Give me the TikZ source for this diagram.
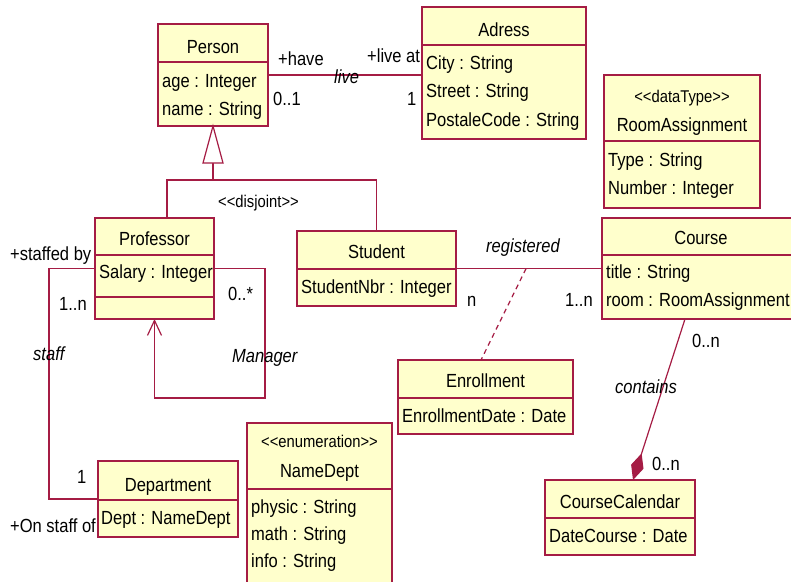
\documentclass[tikz,border=0pt]{standalone}
\usepackage{fontspec}
\setmainfont[FakeStretch=0.87]{Liberation Sans}
\usetikzlibrary{arrows.meta,calc}
\definecolor{umlline}{RGB}{165,28,68}
\definecolor{umlfill}{RGB}{255,255,204}
% guillemet-free stereotype brackets
\newcommand\stereo[1]{<\kern0pt<#1>\kern0pt>}
\begin{document}
\begin{tikzpicture}[x=1pt,y=-1pt,
  cls/.style={draw=umlline,fill=umlfill,line width=1.2pt,inner sep=0pt,outer sep=0pt,anchor=north west},
  cline/.style={draw=umlline,line width=1.2pt},
  txt/.style={inner sep=0pt,anchor=base west,font=\fontsize{19}{21}\selectfont},
  ttl/.style={inner sep=0pt,anchor=base,font=\fontsize{19}{21}\selectfont},
  ster/.style={inner sep=0pt,anchor=base,font=\fontsize{17}{19}\selectfont},
  lbl/.style={inner sep=0pt,anchor=base west,font=\fontsize{19}{21}\selectfont},
  ilbl/.style={inner sep=0pt,anchor=base west,font=\fontsize{19}{21}\selectfont\itshape},
  slbl/.style={inner sep=0pt,anchor=base west,font=\fontsize{17}{19}\selectfont}]
\useasboundingbox (0,0) rectangle (791,581);
\clip (0,0) rectangle (791,581);
\fill[white] (0,0) rectangle (791,581);

% compartment separator inside a class box
\newcommand\compsep[2]{\draw[cline] ([yshift=-#2pt]#1.north west) -- ([yshift=-#2pt]#1.north east);}

% ---------- class boxes ----------
\node[cls,minimum width=110pt,minimum height=102pt] (person) at (158,24) {};
\compsep{person}{38}
\node[cls,minimum width=164pt,minimum height=132pt] (adress) at (422,7) {};
\compsep{adress}{38}
\node[cls,minimum width=156pt,minimum height=133pt] (roomasg) at (604,75) {};
\compsep{roomasg}{66}
\node[cls,minimum width=198pt,minimum height=101pt] (course) at (602,218) {};
\compsep{course}{37}
\node[cls,minimum width=159pt,minimum height=75pt] (student) at (297,231) {};
\compsep{student}{38}
\node[cls,minimum width=119pt,minimum height=101pt] (professor) at (95,218) {};
\compsep{professor}{37}
\compsep{professor}{79}
\node[cls,minimum width=175pt,minimum height=74pt] (enrollment) at (398,360) {};
\compsep{enrollment}{38}
\node[cls,minimum width=140pt,minimum height=76pt] (department) at (98,461) {};
\compsep{department}{39}
\node[cls,minimum width=145pt,minimum height=175pt] (namedept) at (247,423) {};
\compsep{namedept}{66}
\node[cls,minimum width=150pt,minimum height=75pt] (coursecal) at (545,480) {};
\compsep{coursecal}{38}

% ---------- class contents ----------
\node[ttl] (person-n) at (213,53) {Person};
\node[txt] (person-a1) at (162,87) {age : Integer};
\node[txt] (person-a2) at (162,115) {name : String};

\node[ttl] (adress-n) at (504,36) {Adress};
\node[txt] (adress-a1) at (426,69) {City : String};
\node[txt] (adress-a2) at (426,97) {Street : String};
\node[txt] (adress-a3) at (426,126) {PostaleCode : String};

\node[ster] (roomasg-s) at (682,102) {\stereo{dataType}};
\node[ttl] (roomasg-n) at (682,131) {RoomAssignment};
\node[txt] (roomasg-a1) at (608,166) {Type : String};
\node[txt] (roomasg-a2) at (608,194) {Number : Integer};

\node[ttl] (course-n) at (701,244) {Course};
\node[txt] (course-a1) at (606,278) {title : String};
\node[txt] (course-a2) at (606,306) {room : RoomAssignment};

\node[ttl] (student-n) at (376.5,258) {Student};
\node[txt] (student-a1) at (301,293) {StudentNbr : Integer};

\node[ttl] (professor-n) at (154.5,245) {Professor};
\node[txt] (professor-a1) at (99,278) {Salary : Integer};

\node[ttl] (enrollment-n) at (485.5,387) {Enrollment};
\node[txt] (enrollment-a1) at (402,422) {EnrollmentDate : Date};

\node[ttl] (department-n) at (168,491) {Department};
\node[txt] (department-a1) at (101,524) {Dept : NameDept};

\node[ster] (namedept-s) at (319.5,447) {\stereo{enumeration}};
\node[ttl] (namedept-n) at (319.5,477) {NameDept};
\node[txt] (namedept-a1) at (251,513) {physic : String};
\node[txt] (namedept-a2) at (251,540) {math : String};
\node[txt] (namedept-a3) at (251,567) {info : String};

\node[ttl] (coursecal-n) at (620,508) {CourseCalendar};
\node[txt] (coursecal-a1) at (549,542) {DateCourse : Date};

% ---------- association: live ----------
\draw[cline] (person.east) -- (person.east -| adress.west);
\node[lbl] (l-have) at (278,65) {+have};
\node[lbl] (l-liveat) at (367,62) {+live at};
\node[ilbl] (l-live) at (334,83) {live};
\node[lbl] (l-01) at (273,105) {0..1};
\node[lbl] (l-1a) at (407,105) {1};

% ---------- generalization ----------
\coordinate (genjoin) at ([yshift=-54pt]person.south);
\draw[cline] (genjoin) -- ([yshift=-37pt]person.south);
\draw[cline,fill=white] (person.south) -- ++(-10,37) -- ++(20,0) -- cycle;
\draw[cline] ([xshift=12.5pt]professor.north) |- (genjoin) -| (student.north);
\node[slbl] (l-disjoint) at (218,207) {\stereo{disjoint}};

% ---------- association: staff ----------
\draw[cline] (professor.west) -- ++(-46,0) |- (department.west);
\node[lbl] (l-staffedby) at (10,260) {+staffed by};
\node[lbl] (l-1n-a) at (59,310) {1..n};
\node[ilbl] (l-staff) at (33,360) {staff};
\node[lbl] (l-1b) at (77,483) {1};
\node[lbl] (l-onstaff) at (10,532) {+On staff of};

% ---------- association: Manager (self) ----------
\draw[cline,-{Straight Barb[length=15pt,width=14pt]}]
  (professor.east) -- ++(51,0) |- ([yshift=-79pt]professor.south) -- (professor.south);
\node[lbl] (l-0star) at (228,300) {0..*};
\node[ilbl] (l-manager) at (232,362) {Manager};

% ---------- association: registered ----------
\draw[cline] (student.east) -- (course.west) coordinate[pos=0.48] (regmid);
\draw[cline,dashed,dash pattern=on 5pt off 4pt] (regmid) -- ([xshift=-4.5pt]enrollment.north);
\node[ilbl] (l-registered) at (486,252) {registered};
\node[lbl] (l-n) at (467,306) {n};
\node[lbl] (l-1n-b) at (565,306) {1..n};

% ---------- composition: contains ----------
\draw[cline,-{Diamond[length=28pt,width=13pt]}]
  ([xshift=83pt]course.south west) -- ([xshift=13pt]coursecal.north);
\node[lbl] (l-0n-a) at (692,347) {0..n};
\node[ilbl] (l-contains) at (615,393) {contains};
\node[lbl] (l-0n-b) at (652,470) {0..n};
\end{tikzpicture}
\end{document}
